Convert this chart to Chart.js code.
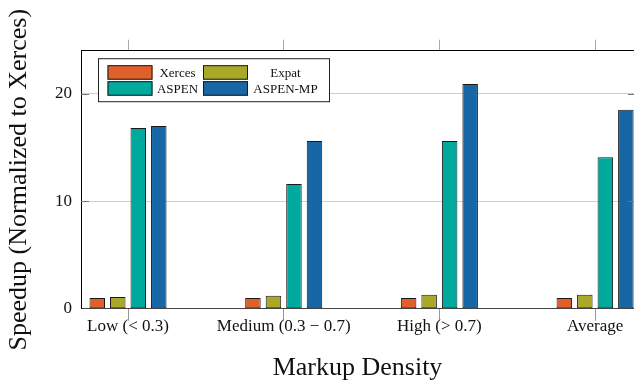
<!DOCTYPE html>
<html>
<head>
<meta charset="utf-8">
<script src="https://cdn.jsdelivr.net/npm/chart.js@4/dist/chart.umd.min.js"></script>
<style>
  html, body { margin: 0; padding: 0; background: #fff; }
  #wrap { width: 634px; height: 381px; }
</style>
</head>
<body>
<div id="wrap"><canvas id="c" width="634" height="381"></canvas></div>
<script>
// ---- data ----
const categories = ['Low (< 0.3)', 'Medium (0.3 − 0.7)', 'High (> 0.7)', 'Average'];
const seriesNames = ['Xerces', 'Expat', 'ASPEN', 'ASPEN-MP'];
const xerces  = [1.0, 1.0, 1.0, 1.0];
const expat   = [1.1, 1.2, 1.3, 1.3];
const aspen   = [16.8, 11.6, 15.6, 14.1];
const aspenMP = [17.0, 15.6, 20.9, 18.5];
const yTicks  = [0, 10, 20];

const colors = ['#E0602A', '#A9A828', '#00A99D', '#1767A6'];
const FONT = "'Liberation Serif', 'Times New Roman', serif";

function pts(arr) { return arr.map((v, i) => ({ x: i, y: v })); }
const allSeries = [xerces, expat, aspen, aspenMP];

const datasets = allSeries.map((s, k) => ({
  label: seriesNames[k],
  data: pts(s),
  backgroundColor: colors[k],
  borderColor: '#1a1a1a',
  borderWidth: 1,
  borderSkipped: false,
  categoryPercentage: 0.527,
  barPercentage: 0.756
}));

const xMin = -0.302, xMax = 3.25;

const legendPlugin = {
  id: 'customLegend',
  afterDraw(chart) {
    const ctx = chart.ctx;
    const ca = chart.chartArea;
    const bx = ca.left + 17.5, by = ca.top + 8;
    const bw = 231, bh = 43;
    ctx.save();
    ctx.fillStyle = '#fff';
    ctx.fillRect(bx, by, bw, bh);
    ctx.strokeStyle = '#222';
    ctx.lineWidth = 1;
    ctx.strokeRect(bx, by, bw, bh);
    ctx.font = '13px ' + FONT;
    ctx.textAlign = 'center';
    ctx.textBaseline = 'middle';
    const ds = chart.data.datasets;
    const cols = [{ sx: bx + 9, tx: bx + 79 }, { sx: bx + 104.5, tx: bx + 187 }];
    const rows = [by + 6.5, by + 22.5];
    for (let i = 0; i < ds.length; i++) {
      const c = cols[i % 2], r = rows[Math.floor(i / 2)];
      ctx.fillStyle = ds[i].backgroundColor;
      ctx.fillRect(c.sx, r, 45, 14.5);
      ctx.strokeStyle = '#1a1a1a';
      ctx.strokeRect(c.sx + 0.5, r + 0.5, 44, 13.5);
      ctx.fillStyle = '#111';
      ctx.fillText(ds[i].label, c.tx, r + 8);
    }
    ctx.restore();
  }
};

const innerTicks = {
  id: 'innerTicks',
  afterDraw(chart) {
    const ctx = chart.ctx, ca = chart.chartArea, y = chart.scales.y;
    ctx.save();
    ctx.strokeStyle = '#777';
    ctx.lineWidth = 1;
    yTicks.forEach(v => {
      if (v === 0) return;
      const py = Math.round(y.getPixelForValue(v)) + 0.5;
      ctx.beginPath();
      ctx.moveTo(ca.left, py); ctx.lineTo(ca.left + 8, py);
      ctx.moveTo(ca.right - 6, py); ctx.lineTo(ca.right, py);
      ctx.stroke();
    });
    ctx.restore();
  }
};

new Chart(document.getElementById('c'), {
  type: 'bar',
  data: { datasets },
  options: {
    responsive: false,
    animation: false,
    devicePixelRatio: 1,
    layout: { padding: 0 },
    plugins: { legend: { display: false }, tooltip: { enabled: false } },
    scales: {
      x: {
        type: 'linear',
        position: 'bottom',
        min: xMin, max: xMax,
        offset: false,
        grid: { offset: false, drawOnChartArea: false, drawTicks: true, tickLength: 12, tickColor: '#999', lineWidth: 1 },
        border: { display: true, color: '#444', width: 1 },
        ticks: {
          stepSize: 1,
          includeBounds: false,
          autoSkip: false,
          maxRotation: 0,
          padding: -4,
          color: '#111',
          font: { family: FONT, size: 17 },
          callback: (v) => (Number.isInteger(v) && v >= 0 && v < categories.length) ? categories[v] : ''
        },
        title: {
          display: true,
          text: 'Markup Density',
          color: '#111',
          font: { family: FONT, size: 26, lineHeight: 1.0 },
          padding: { top: 0, bottom: 0 }
        },
        afterFit(s) { s.height = 72.3; }
      },
      xTop: {
        type: 'linear',
        position: 'top',
        min: xMin, max: xMax,
        offset: false,
        grid: { offset: false, drawOnChartArea: false, drawTicks: true, tickLength: 11, tickColor: '#aaa' },
        border: { display: true, color: '#000', width: 1 },
        ticks: { stepSize: 1, includeBounds: false, autoSkip: false, display: false },
        afterFit(s) { s.height = 50.7; }
      },
      y: {
        type: 'linear',
        position: 'left',
        min: 0, max: 24,
        afterBuildTicks(s) { s.ticks = yTicks.map(v => ({ value: v })); },
        grid: { color: '#cfcfcf', drawTicks: false, lineWidth: 1 },
        border: { display: true, color: '#000', width: 1 },
        ticks: {
          padding: 9,
          color: '#111',
          font: { family: FONT, size: 17 }
        },
        title: {
          display: true,
          text: 'Speedup (Normalized to Xerces)',
          color: '#111',
          font: { family: FONT, size: 26, lineHeight: 1.2 },
          padding: { top: 4, bottom: 0 }
        },
        afterFit(s) { s.width = 81; }
      }
    }
  },
  plugins: [legendPlugin, innerTicks]
});
</script>
</body>
</html>
